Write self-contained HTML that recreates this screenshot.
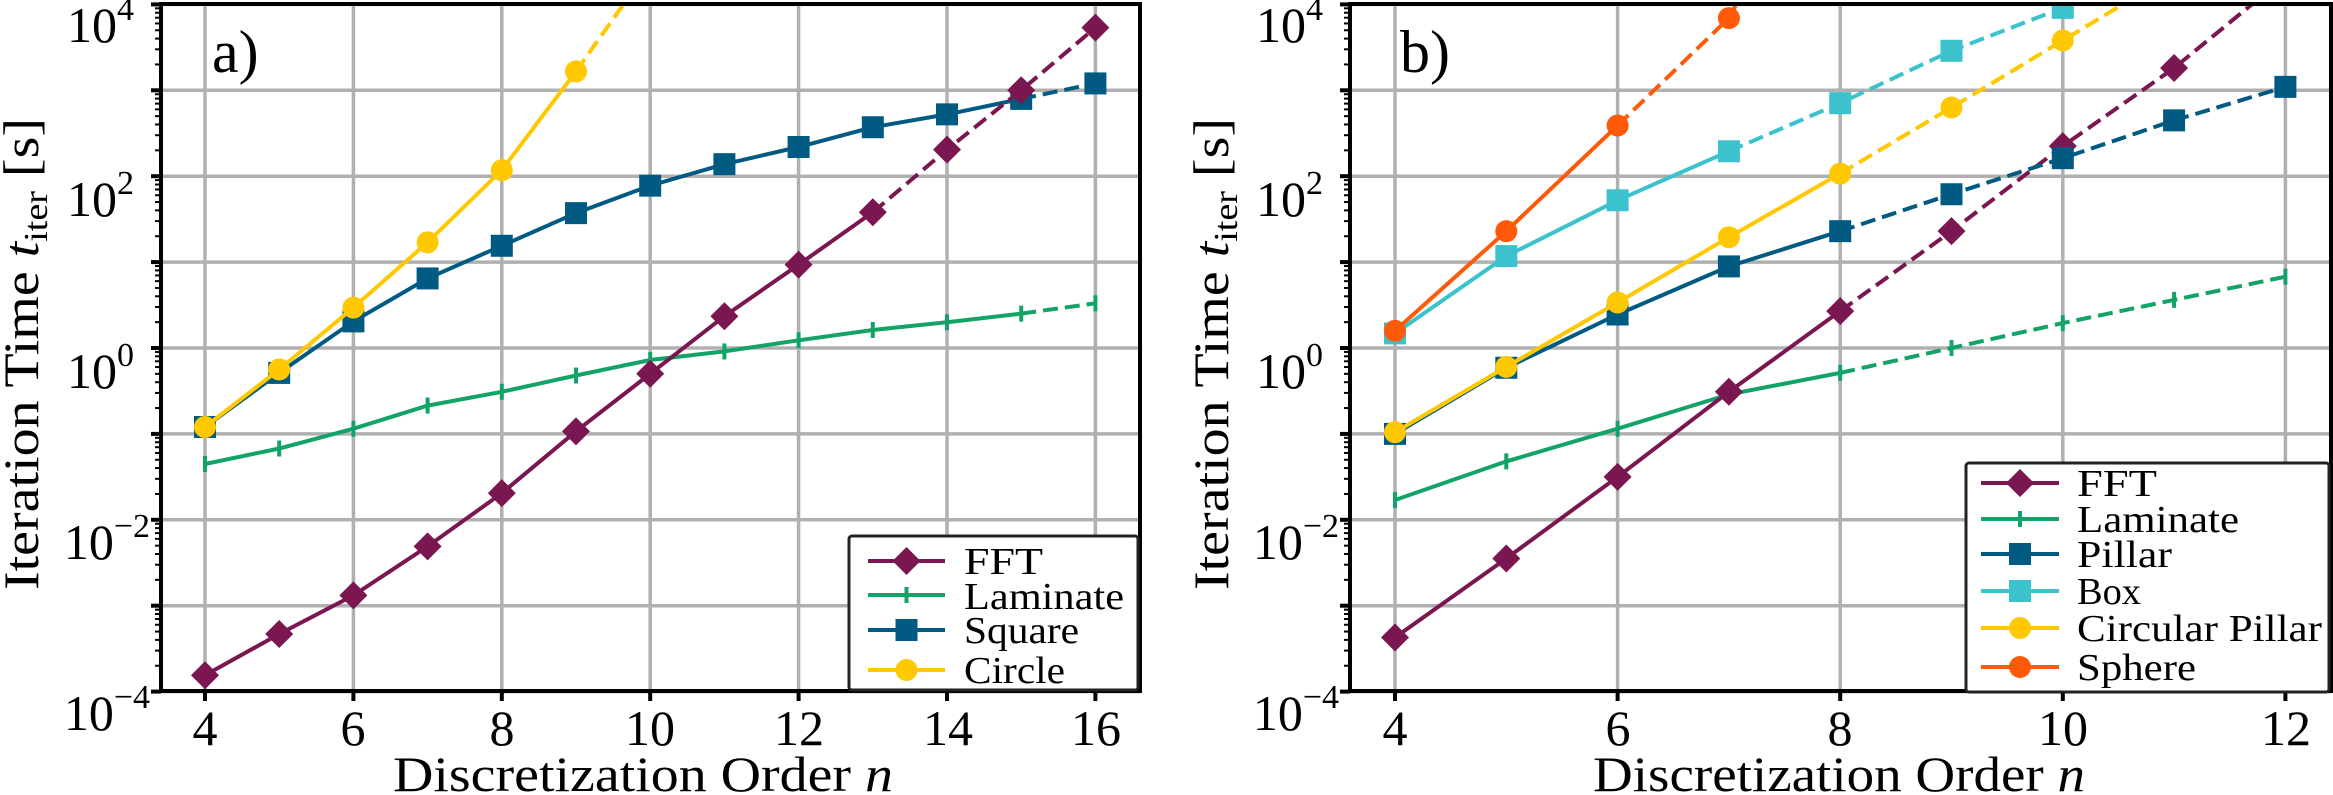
<!DOCTYPE html>
<html><head><meta charset="utf-8">
<style>
html,body{margin:0;padding:0;background:#fff;}
svg{display:block;}
text{font-family:"Liberation Serif","DejaVu Serif",serif;}
</style></head>
<body>
<svg id="s" width="2333" height="795" viewBox="0 0 2333 795" xmlns="http://www.w3.org/2000/svg" font-family="Liberation Serif, DejaVu Serif, serif">
<g id="grid"></g>
<g id="series"></g>
<g id="axes"></g>
<g font-size="50" fill="#000">
<text x="134" y="42" text-anchor="end">10<tspan font-size="34" dy="-22">4</tspan></text>
<text x="134" y="216" text-anchor="end">10<tspan font-size="34" dy="-22">2</tspan></text>
<text x="134" y="388" text-anchor="end">10<tspan font-size="34" dy="-22">0</tspan></text>
<text x="150" y="559" text-anchor="end">10<tspan font-size="34" dy="-22">−2</tspan></text>
<text x="150" y="730" text-anchor="end">10<tspan font-size="34" dy="-22">−4</tspan></text>
<text x="205" y="745" text-anchor="middle">4</text>
<text x="353" y="745" text-anchor="middle">6</text>
<text x="502" y="745" text-anchor="middle">8</text>
<text x="650" y="745" text-anchor="middle">10</text>
<text x="799" y="745" text-anchor="middle">12</text>
<text x="948" y="745" text-anchor="middle">14</text>
<text x="1096" y="745" text-anchor="middle">16</text>
<text x="393" y="791" textLength="500" lengthAdjust="spacingAndGlyphs">Discretization Order <tspan font-style="italic">n</tspan></text>
<text transform="translate(38,590) rotate(-90)" textLength="472" lengthAdjust="spacingAndGlyphs">Iteration Time <tspan font-style="italic">t</tspan><tspan font-size="34" dy="9">iter</tspan><tspan dy="-9"> [s]</tspan></text>
<text x="212" y="72" font-size="60">a)</text>
</g>
<g font-size="50" fill="#000">
<text x="1323" y="42" text-anchor="end">10<tspan font-size="34" dy="-22">4</tspan></text>
<text x="1323" y="216" text-anchor="end">10<tspan font-size="34" dy="-22">2</tspan></text>
<text x="1323" y="388" text-anchor="end">10<tspan font-size="34" dy="-22">0</tspan></text>
<text x="1339" y="559" text-anchor="end">10<tspan font-size="34" dy="-22">−2</tspan></text>
<text x="1339" y="730" text-anchor="end">10<tspan font-size="34" dy="-22">−4</tspan></text>
<text x="1395" y="745" text-anchor="middle">4</text>
<text x="1618" y="745" text-anchor="middle">6</text>
<text x="1840" y="745" text-anchor="middle">8</text>
<text x="2063" y="745" text-anchor="middle">10</text>
<text x="2286" y="745" text-anchor="middle">12</text>
<text x="1593" y="791" textLength="492" lengthAdjust="spacingAndGlyphs">Discretization Order <tspan font-style="italic">n</tspan></text>
<text transform="translate(1228,590) rotate(-90)" textLength="472" lengthAdjust="spacingAndGlyphs">Iteration Time <tspan font-style="italic">t</tspan><tspan font-size="34" dy="9">iter</tspan><tspan dy="-9"> [s]</tspan></text>
<text x="1400" y="72" font-size="60">b)</text>
</g>
<rect x="849" y="536" width="289" height="154" fill="#fff" stroke="#222" stroke-width="3" rx="3"/>
<g id="lega"></g>
<g font-size="38" fill="#000">
<text x="964" y="574" textLength="79" lengthAdjust="spacingAndGlyphs">FFT</text>
<text x="964" y="609" textLength="160" lengthAdjust="spacingAndGlyphs">Laminate</text>
<text x="964" y="643" textLength="115" lengthAdjust="spacingAndGlyphs">Square</text>
<text x="964" y="683" textLength="101" lengthAdjust="spacingAndGlyphs">Circle</text>
</g>
<rect x="1966" y="463" width="363" height="229" fill="#fff" stroke="#222" stroke-width="3" rx="3"/>
<g id="legb"></g>
<g font-size="38" fill="#000">
<text x="2077" y="496" textLength="80" lengthAdjust="spacingAndGlyphs">FFT</text>
<text x="2077" y="532" textLength="162" lengthAdjust="spacingAndGlyphs">Laminate</text>
<text x="2077" y="567" textLength="95" lengthAdjust="spacingAndGlyphs">Pillar</text>
<text x="2077" y="604" textLength="64" lengthAdjust="spacingAndGlyphs">Box</text>
<text x="2077" y="641" textLength="245" lengthAdjust="spacingAndGlyphs">Circular Pillar</text>
<text x="2077" y="680" textLength="119" lengthAdjust="spacingAndGlyphs">Sphere</text>
</g>
</svg>
<script>
var NS="http://www.w3.org/2000/svg";
function el(p,t,a){var e=document.createElementNS(NS,t);for(var k in a)e.setAttribute(k,a[k]);p.appendChild(e);return e;}
var grid=document.getElementById('grid'),ser=document.getElementById('series'),ax=document.getElementById('axes');
function Y(k){return 348-85.9*k;}
var C={fft:"#7a1650",lam:"#12a366",sq:"#005a82",box:"#3cc2cc",cir:"#ffc800",sph:"#ff5a0a"};
var panels=[
 {L:161,R:1140,X:function(n){return 205+74.2*(n-4);},xt:[4,6,8,10,12,14,16],
  s:[
   {c:C.sq,m:"s",k:[-0.92,-0.29,0.31,0.81,1.19,1.57,1.89,2.14,2.34,2.57,2.72,2.90,3.08],solid:15},
   {c:C.lam,m:"p",k:[-1.35,-1.17,-0.94,-0.67,-0.51,-0.32,-0.14,-0.04,0.09,0.21,0.30,0.40,0.52],solid:15},
   {c:C.fft,m:"d",k:[-3.81,-3.33,-2.88,-2.31,-1.69,-0.97,-0.30,0.37,0.97,1.58,2.31,3.0,3.73],solid:13},
   {c:C.cir,m:"o",k:[-0.92,-0.25,0.47,1.23,2.07,3.22,4.44],solid:9,nomark:10}
  ]},
 {L:1350,R:2331,X:function(n){return 1395+111.3*(n-4);},xt:[4,6,8,10,12],
  s:[
   {c:C.lam,m:"p",k:[-1.77,-1.32,-0.94,-0.54,-0.29,0.0,0.29,0.56,0.83],solid:8},
   {c:C.fft,m:"d",k:[-3.37,-2.45,-1.50,-0.51,0.43,1.36,2.35,3.26,4.32],solid:8,nomark:12},
   {c:C.sq,m:"s",k:[-1.0,-0.23,0.39,0.95,1.36,1.79,2.21,2.65,3.04],solid:8},
   {c:C.cir,m:"o",k:[-0.98,-0.22,0.53,1.29,2.03,2.80,3.58,4.36],solid:8,nomark:11},
   {c:C.box,m:"s",k:[0.17,1.07,1.72,2.29,2.85,3.46,3.96,4.6],solid:7,nomark:11},
   {c:C.sph,m:"o",k:[0.2,1.36,2.59,3.84,6.3],solid:6,nomark:8}
  ]}
];
function marker(g,m,x,y,c){
 if(m=="s")el(g,"rect",{x:x-11,y:y-11,width:22,height:22,fill:c});
 else if(m=="o")el(g,"circle",{cx:x,cy:y,r:11,fill:c});
 else if(m=="d")el(g,"polygon",{points:(x)+","+(y-14)+" "+(x+14)+","+y+" "+x+","+(y+14)+" "+(x-14)+","+y,fill:c});
 else if(m=="p"){el(g,"line",{x1:x,y1:y-8,x2:x,y2:y+8,stroke:c,"stroke-width":4});}
}
panels.forEach(function(P,pi){
 var T=4,B=691;
 for(var k=-4;k<=4;k++){var y=Y(k);el(grid,"line",{x1:P.L,x2:P.R,y1:y,y2:y,stroke:"#b0b0b0","stroke-width":3.5});}
 P.xt.forEach(function(n){var x=P.X(n);el(grid,"line",{x1:x,x2:x,y1:T,y2:B,stroke:"#b0b0b0","stroke-width":3.5});});
 var cp=el(document.getElementById('s'),"clipPath",{id:"cp"+pi});
 el(cp,"rect",{x:P.L,y:T,width:P.R-P.L,height:B-T});
 var g=el(ser,"g",{"clip-path":"url(#cp"+pi+")"});
 P.s.forEach(function(S){
  var pts=S.k.map(function(v,i){return [P.X(4+i),Y(v)];});
  var si=S.solid-4;
  var a=pts.slice(0,si+1),b=pts.slice(si);
  var f=function(p){return p.map(function(q){return q[0].toFixed(1)+","+q[1].toFixed(1);}).join(" ");};
  el(g,"polyline",{points:f(a),fill:"none",stroke:S.c,"stroke-width":4});
  if(b.length>1)el(g,"polyline",{points:f(b),fill:"none",stroke:S.c,"stroke-width":4,"stroke-dasharray":"15,7"});
  pts.forEach(function(q,i){if(S.nomark&&4+i>=S.nomark)return;marker(g,S.m,q[0],q[1],S.c);});
 });
 el(ax,"rect",{x:P.L,y:T,width:P.R-P.L,height:B-T,fill:"none",stroke:"#000","stroke-width":4});
 P.xt.forEach(function(n){var x=P.X(n);el(ax,"line",{x1:x,x2:x,y1:B,y2:B+10,stroke:"#000","stroke-width":4});});
 for(var k=-4;k<=4;k++){var y=Y(k);el(ax,"line",{x1:P.L-10,x2:P.L,y1:y,y2:y,stroke:"#000","stroke-width":4});
  if(k<4)for(var j=2;j<10;j++){var yy=Y(k+Math.log10(j));el(ax,"line",{x1:P.L-6,x2:P.L,y1:yy,y2:yy,stroke:"#000","stroke-width":2});}}
});
function leg(id,x1,x2,rows){var g=document.getElementById(id);rows.forEach(function(r){
 el(g,"line",{x1:x1,x2:x2,y1:r[0],y2:r[0],stroke:r[1],"stroke-width":4});marker(g,r[2],(x1+x2)/2,r[0],r[1]);});}
leg("lega",868,945,[[561,C.fft,"d"],[595,C.lam,"p"],[630,C.sq,"s"],[670,C.cir,"o"]]);
leg("legb",1981,2059,[[483,C.fft,"d"],[519,C.lam,"p"],[554,C.sq,"s"],[591,C.box,"s"],[628,C.cir,"o"],[667,C.sph,"o"]]);
</script>
</body></html>
